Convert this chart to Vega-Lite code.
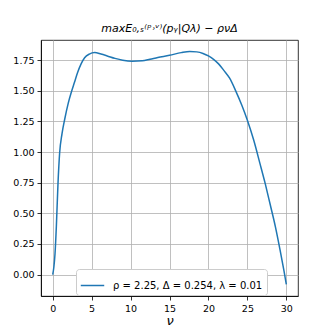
{
  "$schema": "https://vega.github.io/schema/vega-lite/v6.json",
  "width": 257,
  "height": 256,
  "autosize": {"type": "none"},
  "padding": {"left": 41, "top": 40, "right": 34, "bottom": 36},
  "background": "white",
  "title": {
    "text": "maxE₀,ₛ⁽ᵖ˒ᵛ⁾(pᵧ|Qλ) − ρνΔ",
    "font": "DejaVu Sans",
    "fontSize": 11,
    "fontWeight": "normal",
    "fontStyle": "italic",
    "color": "black",
    "anchor": "middle",
    "offset": 6
  },
  "config": {
    "view": {"stroke": "black", "strokeWidth": 0.8},
    "axis": {
      "labelFont": "DejaVu Sans",
      "labelFontSize": 9.5,
      "labelColor": "black",
      "domainColor": "black",
      "domainWidth": 0.8,
      "tickColor": "black",
      "tickWidth": 0.8,
      "tickSize": 4,
      "gridColor": "#b0b0b0",
      "gridWidth": 0.8,
      "gridOpacity": 1,
      "labelPadding": 3
    }
  },
  "data": {
    "values": [
      {"nu": 0, "v": 0},
      {"nu": 0.15, "v": 0.06},
      {"nu": 0.3, "v": 0.17},
      {"nu": 0.47, "v": 0.39},
      {"nu": 0.68, "v": 0.74},
      {"nu": 0.89, "v": 0.99},
      {"nu": 1.2, "v": 1.15},
      {"nu": 1.55, "v": 1.27},
      {"nu": 2.0, "v": 1.40},
      {"nu": 2.4, "v": 1.49},
      {"nu": 2.8, "v": 1.57},
      {"nu": 3.2, "v": 1.65},
      {"nu": 3.65, "v": 1.72},
      {"nu": 4.1, "v": 1.77},
      {"nu": 4.7, "v": 1.80},
      {"nu": 5.4, "v": 1.812},
      {"nu": 6.2, "v": 1.80},
      {"nu": 7.0, "v": 1.785},
      {"nu": 8.0, "v": 1.765},
      {"nu": 9.0, "v": 1.75},
      {"nu": 10.2, "v": 1.742},
      {"nu": 11.5, "v": 1.745},
      {"nu": 12.5, "v": 1.758},
      {"nu": 13.5, "v": 1.772},
      {"nu": 15.0, "v": 1.79},
      {"nu": 16.5, "v": 1.812},
      {"nu": 17.6, "v": 1.822},
      {"nu": 18.5, "v": 1.818},
      {"nu": 19.3, "v": 1.805},
      {"nu": 20.0, "v": 1.785},
      {"nu": 20.7, "v": 1.755},
      {"nu": 21.3, "v": 1.72},
      {"nu": 22.0, "v": 1.665},
      {"nu": 22.7, "v": 1.605},
      {"nu": 23.5, "v": 1.50},
      {"nu": 24.3, "v": 1.38},
      {"nu": 25.0, "v": 1.26},
      {"nu": 25.8, "v": 1.10},
      {"nu": 26.6, "v": 0.91},
      {"nu": 27.3, "v": 0.74},
      {"nu": 27.9, "v": 0.58},
      {"nu": 28.6, "v": 0.39},
      {"nu": 29.2, "v": 0.20},
      {"nu": 29.7, "v": 0.03},
      {"nu": 30.0, "v": -0.08}
    ]
  },
  "transform": [{"calculate": "'ρ = 2.25, Δ = 0.254, λ = 0.01'", "as": "series"}],
  "mark": {"type": "line", "interpolate": "monotone", "strokeWidth": 1.5, "clip": true},
  "encoding": {
    "x": {
      "field": "nu",
      "type": "quantitative",
      "scale": {"domain": [-1.5, 31.5], "nice": false, "zero": false},
      "axis": {"values": [0, 5, 10, 15, 20, 25, 30], "title": "ν", "titleFont": "DejaVu Sans", "titleFontSize": 13, "titleFontWeight": "normal", "titleFontStyle": "italic", "titleColor": "black", "titlePadding": 2}
    },
    "y": {
      "field": "v",
      "type": "quantitative",
      "scale": {"domain": [-0.175, 1.915], "nice": false, "zero": false},
      "axis": {"values": [0, 0.25, 0.5, 0.75, 1.0, 1.25, 1.5, 1.75], "format": ".2f", "title": null}
    },
    "color": {
      "field": "series",
      "type": "nominal",
      "scale": {"range": ["#1f77b4"]},
      "legend": {
        "title": null,
        "orient": "none",
        "legendX": 35,
        "legendY": 229,
        "symbolType": "stroke",
        "symbolSize": 550,
        "symbolStrokeWidth": 1.5,
        "labelFont": "DejaVu Sans",
        "labelFontSize": 10,
        "labelColor": "black",
        "labelLimit": 300,
        "labelOffset": 8,
        "fillColor": "white",
        "strokeColor": "#cccccc",
        "padding": 4,
        "cornerRadius": 3,
        "offset": 0
      }
    }
  }
}
